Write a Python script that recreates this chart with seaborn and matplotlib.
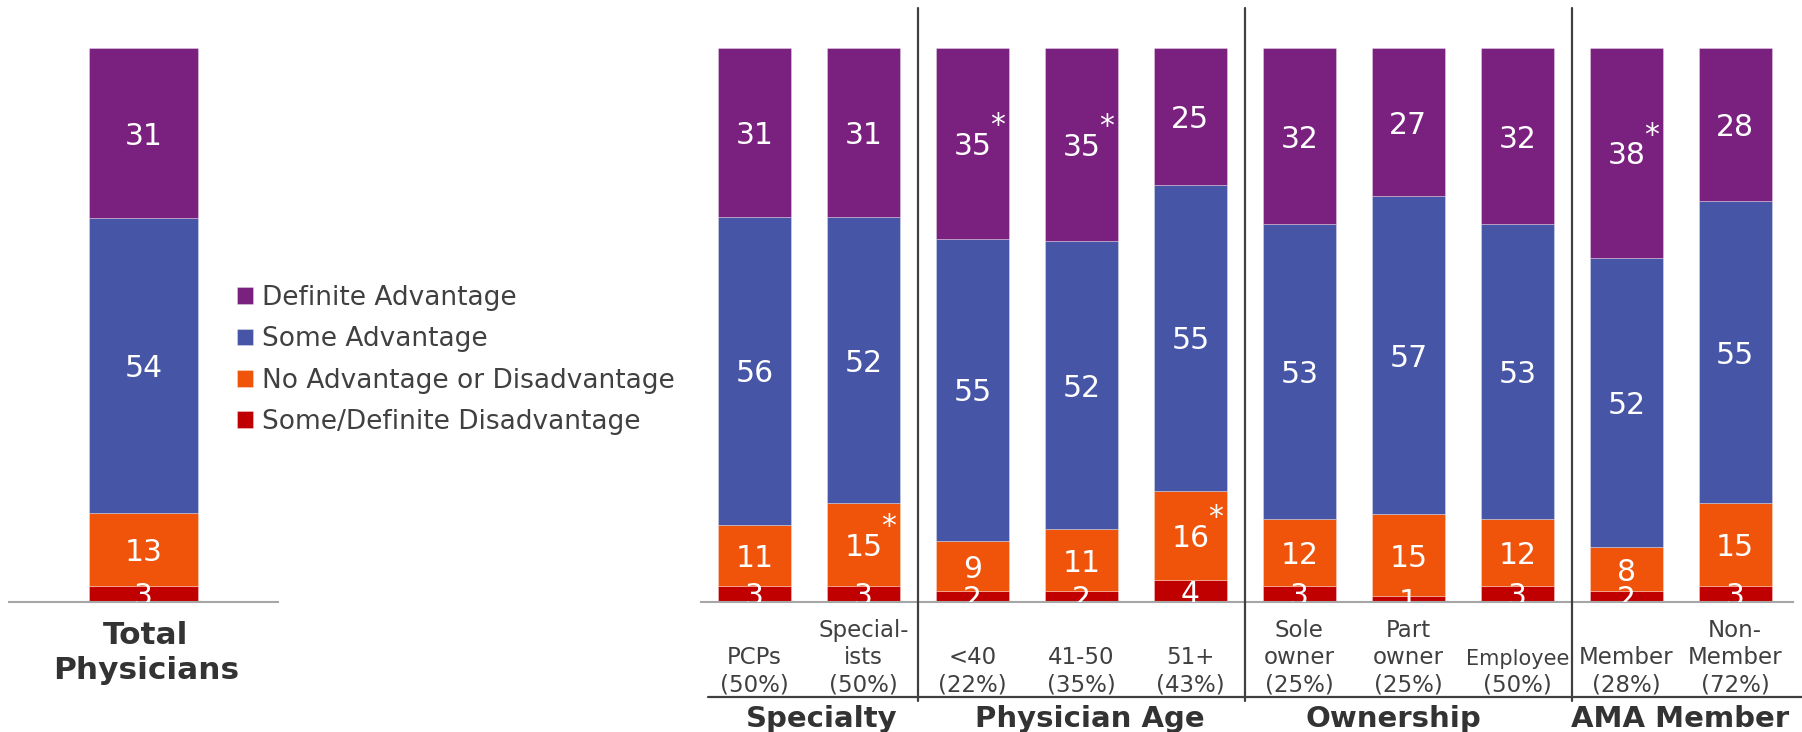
import numpy as np
import pandas as pd
import matplotlib
matplotlib.use("Agg")
import matplotlib.pyplot as plt
import matplotlib.transforms as mtransforms
from matplotlib.lines import Line2D
import seaborn as sns

sns.set_style("white")
plt.rcParams["font.family"] = ["DejaVu Sans"]

# ---------------- data ----------------
series_names = ["Some/Definite Disadvantage", "No Advantage or Disadvantage",
                "Some Advantage", "Definite Advantage"]
series_colors = ["#C00000", "#F0530A", "#4655A5", "#7A2180"]

# Total Physicians (segment heights, bottom to top)
total_disadv = [2.9]
total_noadv = [13.1]
total_some = [53.3]
total_def = [30.7]
total_lbl_disadv = [3]
total_lbl_noadv = [13]
total_lbl_some = [54]
total_lbl_def = [31]

# Sub-groups
categories = ["PCPs\n(50%)", "Special-\nists\n(50%)", "<40\n(22%)", "41-50\n(35%)",
              "51+\n(43%)", "Sole\nowner\n(25%)", "Part\nowner\n(25%)", "Employee\n(50%)",
              "Member\n(28%)", "Non-\nMember\n(72%)"]
disadv = [2.9, 2.9, 1.9, 1.9, 3.9, 2.9, 1.0, 2.9, 1.9, 2.9]
noadv = [11.0, 14.9, 9.1, 11.2, 16.2, 12.0, 14.9, 12.0, 8.1, 14.9]
some = [55.6, 51.7, 54.6, 52.1, 55.2, 53.3, 57.3, 53.3, 52.1, 54.6]
definite = [30.5, 30.5, 34.4, 34.8, 24.7, 31.8, 26.8, 31.8, 37.9, 27.6]

lbl_disadv = [3, 3, 2, 2, 4, 3, 1, 3, 2, 3]
lbl_noadv = [11, 15, 9, 11, 16, 12, 15, 12, 8, 15]
lbl_some = [56, 52, 55, 52, 55, 53, 57, 53, 52, 55]
lbl_def = [31, 31, 35, 35, 25, 32, 27, 32, 38, 28]

star_noadv = [False, True, False, False, True, False, False, False, False, False]
star_def = [False, False, True, True, False, False, False, False, True, False]

group_names = ["Specialty", "Physician Age", "Ownership", "AMA Member"]
group_sizes = [2, 3, 3, 2]
group_title_x = [0.62, 3.08, 5.86, 8.49]

# ---------------- figure ----------------
W, H = 1802, 732
fig = plt.figure(figsize=(W / 100, H / 100), dpi=100)

base_px, top_px = 602, 48
axL = fig.add_axes([9 / W, (H - base_px) / H, 269 / W, (base_px - top_px) / H])
axR = fig.add_axes([701 / W, (H - base_px) / H, 1092 / W, (base_px - top_px) / H])

LABEL_FS = 21.5
STAR_OFF = (18, 15)


def stacked(ax, cats, layers, labels, stars, width):
    bottoms = np.zeros(len(cats))
    for k, vals in enumerate(layers):
        vals = np.asarray(vals, dtype=float)
        sns.barplot(x=cats, y=vals, bottom=bottoms, color=series_colors[k],
                    width=width, errorbar=None, ax=ax, saturation=1,
                    edgecolor=(1, 1, 1, 0.35), linewidth=0.6,
                    label=series_names[k])
        for i, (v, b) in enumerate(zip(vals, bottoms)):
            yc = b + v / 2
            ax.text(i, yc, str(labels[k][i]), ha="center", va="center_baseline",
                    color="white", fontsize=LABEL_FS, clip_on=True)
            if stars[k] is not None and stars[k][i]:
                ax.annotate("*", xy=(i, yc), xytext=STAR_OFF, textcoords="offset points",
                            ha="center", va="center_baseline", color="white",
                            fontsize=LABEL_FS)
        bottoms = bottoms + vals


stacked(axL, ["Total Physicians"],
        [total_disadv, total_noadv, total_some, total_def],
        [total_lbl_disadv, total_lbl_noadv, total_lbl_some, total_lbl_def],
        [None, None, None, None], 0.405)
stacked(axR, categories, [disadv, noadv, some, definite],
        [lbl_disadv, lbl_noadv, lbl_some, lbl_def],
        [None, star_noadv, None, star_def], 0.67)

for ax in (axL, axR):
    ax.set_ylim(0, 100)
    ax.set_xlabel("")
    ax.set_ylabel("")
    ax.set_xticks([])
    ax.set_yticks([])
    for s in ("top", "left", "right"):
        ax.spines[s].set_visible(False)
    ax.spines["bottom"].set_color("#A6A6A6")
    ax.spines["bottom"].set_linewidth(1.5)
    if ax.get_legend() is not None:
        ax.get_legend().remove()

axL.set_xlim(-0.5, 0.5)
axR.set_xlim(-0.49, 9.53)

# category labels
trans = mtransforms.blended_transform_factory(axR.transData, fig.transFigure)
for i, c in enumerate(categories):
    if c.startswith("Employee"):
        first, rest = c.split("\n", 1)
        axR.text(i, (H - 696) / H, rest, transform=trans, ha="center", va="bottom",
                 fontsize=16.5, color="#404040")
        axR.text(i, (H - 669) / H, first, transform=trans, ha="center", va="bottom",
                 fontsize=15, color="#404040")
    else:
        axR.text(i, (H - 696) / H, c, transform=trans, ha="center", va="bottom",
                 fontsize=16.5, color="#404040", linespacing=1.22)

# separators
edges = np.cumsum(group_sizes)[:-1] - 0.5
for e in edges:
    fig.add_artist(Line2D([e, e], [(H - 8) / H, (H - 701) / H], transform=trans,
                          color="#404040", linewidth=1.6))
# bottom line under categories
fig.add_artist(Line2D([708 / W, 1.0], [(H - 697) / H] * 2, transform=fig.transFigure,
                      color="#404040", linewidth=1.6))

# group titles
for name, gx in zip(group_names, group_title_x):
    axR.text(gx, (H - 727) / H, name, transform=trans, ha="center", va="baseline",
             fontsize=21, fontweight="bold", color="#333333")

fig.text(146 / W, (H - 653) / H, "Total\nPhysicians", ha="center", va="center",
         fontsize=22.5, fontweight="bold", color="#333333", linespacing=1.28)

# legend
handles = list(axL.containers)[::-1]
fig.legend(handles, series_names[::-1], loc="upper left",
           bbox_to_anchor=(237 / W, 1 - 285 / H), frameon=False, fontsize=19,
           handlelength=0.6, handleheight=0.6, handletextpad=0.35,
           labelspacing=0.58, borderpad=0, borderaxespad=0, labelcolor="#404040")

fig.savefig("out.png", dpi=100)
